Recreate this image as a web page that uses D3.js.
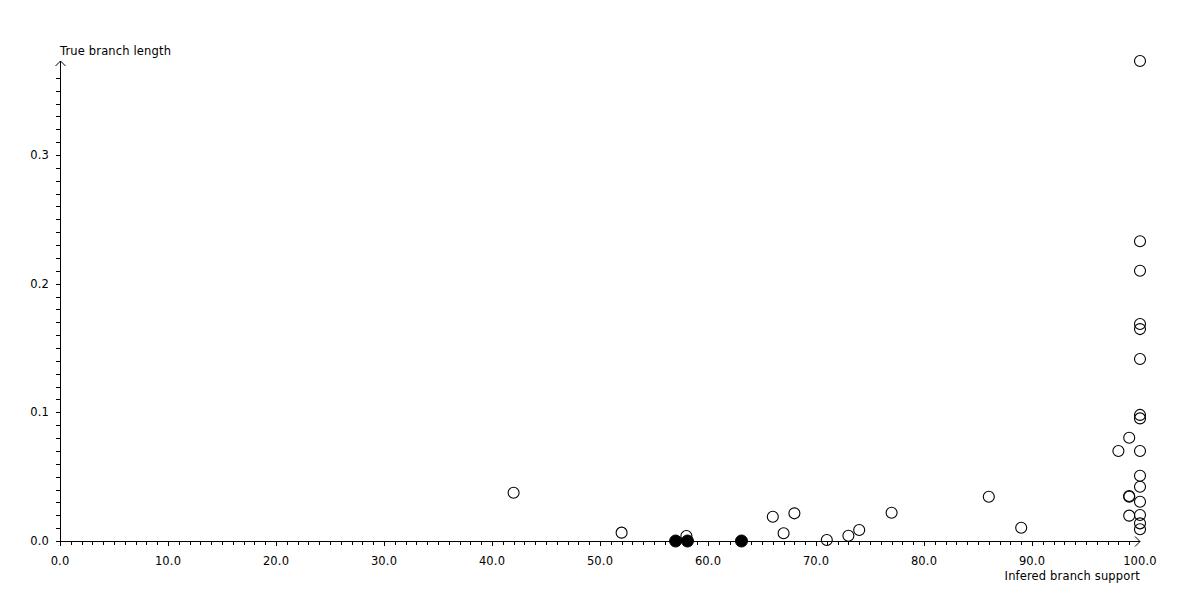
<!DOCTYPE html>
<html>
<head>
<meta charset="utf-8">
<script src="https://cdn.jsdelivr.net/npm/d3@7"></script>
<style>
  html, body { margin: 0; padding: 0; background: #fff; }
  svg { display: block; }
  text { font-family: "DejaVu Sans", sans-serif; font-size: 11.5px; letter-spacing: 0.15px; fill: #000; }
</style>
</head>
<body>
<svg id="chart" width="1200" height="600"></svg>
<script>
// Open-circle points: inferred branch support (x) and true branch length (y)
const openSupport = [100, 100, 100, 100, 100, 100, 100, 100, 99, 98, 100, 100, 100, 99, 99, 100, 99, 100, 100, 100,
                     86, 89, 52, 58, 66, 67, 68, 71, 73, 74, 77, 42];
const openLength  = [0.373, 0.233, 0.210, 0.1686, 0.1647, 0.1414, 0.098, 0.0953, 0.0803, 0.070, 0.070, 0.0507, 0.0422, 0.0344, 0.035, 0.0305, 0.0197, 0.0202, 0.0137, 0.0091,
                     0.0344, 0.0103, 0.0065, 0.0039, 0.0189, 0.006, 0.0215, 0.0008, 0.0041, 0.0085, 0.022, 0.0375];
// Filled points (zero-length branches)
const filledSupport = [57, 58.1, 63.1];
const filledLength  = [0, 0, 0];

const xTickLabels = ["0.0", "10.0", "20.0", "30.0", "40.0", "50.0", "60.0", "70.0", "80.0", "90.0", "100.0"];
const yTickLabels = ["0.0", "0.1", "0.2", "0.3"];
const xTitle = "Infered branch support";
const yTitle = "True branch length";

const svg = d3.select("#chart");
const x = d3.scaleLinear().domain([0, 100]).range([60, 1140]);
const y = d3.scaleLinear().domain([0, 0.3]).range([541, 155]);
const yMax = y.invert(61);

// X axis line with arrow
const axG = svg.append("g").attr("stroke", "#000").attr("stroke-width", 1).attr("fill", "none");
axG.append("line").attr("x1", x(0)).attr("x2", x(100)).attr("y1", y(0) + 0.5).attr("y2", y(0) + 0.5);
axG.append("path").attr("d", `M${x(100) - 5},${y(0) - 4.5}L${x(100)},${y(0) + 0.5}L${x(100) - 5},${y(0) + 5.5}`);
// Y axis line with arrow
axG.append("line").attr("x1", x(0) + 0.5).attr("x2", x(0) + 0.5).attr("y1", y(0)).attr("y2", y(yMax));
axG.append("path").attr("d", `M${x(0) - 4.5},${y(yMax) + 5}L${x(0) + 0.5},${y(yMax)}L${x(0) + 5.5},${y(yMax) + 5}`);

// X ticks (minor every 1, major every 10)
const xMinor = d3.range(0, 100, 1);
axG.selectAll(".xt").data(xMinor).join("line")
  .attr("x1", d => Math.round(x(d)) + 0.5).attr("x2", d => Math.round(x(d)) + 0.5)
  .attr("y1", y(0)).attr("y2", d => y(0) + (d % 10 === 0 ? 5 : 4));
// Y ticks (minor every 0.01)
const yMinor = d3.range(0, 38).map(i => i / 100).filter(v => v <= yMax - 0.004);
axG.selectAll(".yt").data(yMinor).join("line")
  .attr("x1", x(0) - 4).attr("x2", x(0))
  .attr("y1", d => Math.round(y(d)) + 0.5).attr("y2", d => Math.round(y(d)) + 0.5);

// Tick labels
svg.selectAll(".xl").data(xTickLabels).join("text")
  .attr("x", (d, i) => x(i * 10)).attr("y", 565).attr("text-anchor", "middle").text(d => d);
svg.selectAll(".yl").data(yTickLabels).join("text")
  .attr("x", 49).attr("y", (d, i) => y(i * 0.1) + 4).attr("text-anchor", "end").text(d => d);

// Axis titles
svg.append("text").attr("x", 60).attr("y", 55).text(yTitle);
svg.append("text").attr("x", 1140).attr("y", 580).attr("text-anchor", "end").text(xTitle);

// Points
svg.selectAll(".op").data(openSupport).join("circle")
  .attr("cx", d => x(d)).attr("cy", (d, i) => y(openLength[i])).attr("r", 5.5)
  .attr("fill", "none").attr("stroke", "#000").attr("stroke-width", 1.1);
svg.selectAll(".fp").data(filledSupport).join("circle")
  .attr("cx", d => x(d)).attr("cy", (d, i) => y(filledLength[i])).attr("r", 6)
  .attr("fill", "#000").attr("stroke", "#000");
</script>
</body>
</html>
